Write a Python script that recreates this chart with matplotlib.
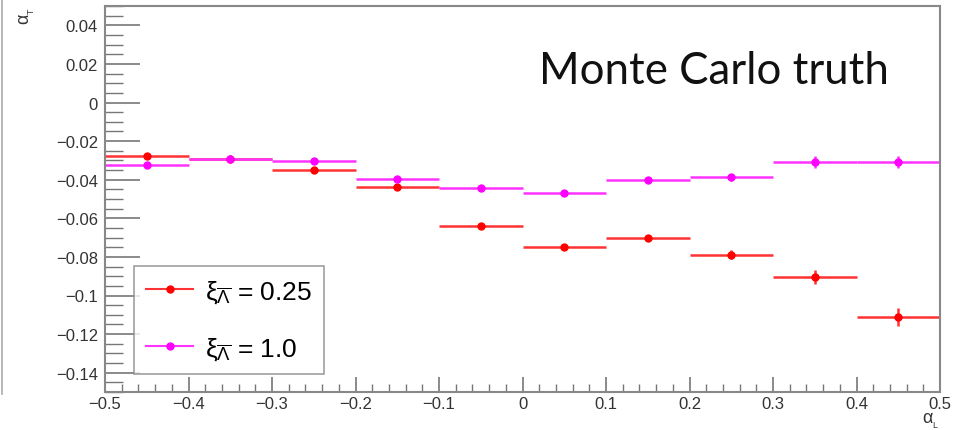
import numpy as np
import matplotlib
matplotlib.use('Agg')
import matplotlib.pyplot as plt
from matplotlib.ticker import MultipleLocator
from matplotlib.lines import Line2D

plt.rcParams['font.family'] = ['Liberation Sans', 'DejaVu Sans']
plt.rcParams['mathtext.fontset'] = 'custom'
plt.rcParams['mathtext.rm'] = 'Liberation Sans'
plt.rcParams['mathtext.it'] = 'Liberation Sans'

# bin centres in alpha_L
bin_centers = [-0.45, -0.35, -0.25, -0.15, -0.05, 0.05, 0.15, 0.25, 0.35, 0.45]
bin_half = 0.05

# xi = 0.25 (red)
red_vals = [-0.0278, -0.0293, -0.0349, -0.0438, -0.0638, -0.0747, -0.0702, -0.0788, -0.0904, -0.1112]
red_errs = [0.0010, 0.0010, 0.0010, 0.0012, 0.0012, 0.0013, 0.0015, 0.0025, 0.0035, 0.0047]

# xi = 1.0 (magenta)
mag_vals = [-0.0326, -0.0293, -0.0305, -0.0398, -0.0443, -0.0469, -0.0400, -0.0388, -0.0309, -0.0309]
mag_errs = [0.0008, 0.0008, 0.0008, 0.0009, 0.0009, 0.0010, 0.0012, 0.0020, 0.0030, 0.0030]

labels = [r'$\xi_{\overline{\Lambda}}$ = 0.25', r'$\xi_{\overline{\Lambda}}$ = 1.0']

fig = plt.figure(figsize=(9.62, 4.31), dpi=100)
ax = fig.add_axes([105/962, 38/431, 835/962, 386/431])

ax.errorbar(bin_centers, red_vals, xerr=bin_half, yerr=red_errs, fmt='o', color='#ff0000',
            ecolor='#ff3333', elinewidth=1.8, markersize=5, capsize=0)
ax.errorbar(bin_centers, mag_vals, xerr=bin_half, yerr=mag_errs, fmt='o', color='#ff00ff',
            ecolor='#ff33ff', elinewidth=1.8, markersize=5, capsize=0)

ax.set_xlim(-0.5, 0.5)
ax.set_ylim(-0.15, 0.05)

ax.xaxis.set_major_locator(MultipleLocator(0.1))
ax.xaxis.set_minor_locator(MultipleLocator(0.02))
ax.yaxis.set_major_locator(MultipleLocator(0.02))
ax.yaxis.set_minor_locator(MultipleLocator(0.005))
ax.xaxis.set_major_formatter(plt.FuncFormatter(lambda v, p: '0' if abs(v) < 1e-9 else ('%g' % round(v, 2)).replace('-', '\u2212')))
ax.yaxis.set_major_formatter(plt.FuncFormatter(lambda v, p: '0' if abs(v) < 1e-9 else ('%g' % round(v, 3)).replace('-', '\u2212')))

ax.tick_params(axis='both', which='both', direction='in', colors='#777777', labelcolor='#333333',
               labelsize=12, top=False, right=False)
ax.tick_params(axis='y', which='major', length=25, width=1.2, pad=5)
ax.tick_params(axis='y', which='minor', length=13, width=1.0)
ax.tick_params(axis='x', which='major', length=11, width=1.2, pad=3)
ax.tick_params(axis='x', which='minor', length=6, width=1.0)

for s in ax.spines.values():
    s.set_color('#888888')
    s.set_linewidth(1.5)

fig.text(27/962, 1 - 16/431, r'$\alpha_{_T}$', rotation=90, ha='center', va='center',
         fontsize=13, color='#333333')
fig.text(931/962, 1 - 421/431, r'$\alpha_{_L}$', ha='center', va='center',
         fontsize=13, color='#333333')

handles = [Line2D([], [], color='#ff3333', lw=1.5, marker='o', markersize=5, markerfacecolor='#ff0000',
                  markeredgecolor='#ff0000'),
           Line2D([], [], color='#ff33ff', lw=1.5, marker='o', markersize=5, markerfacecolor='#ff00ff',
                  markeredgecolor='#ff00ff')]
leg = ax.legend(handles, labels, loc='lower left', bbox_to_anchor=(29/835, 18/386), fontsize=19,
                frameon=True, fancybox=False, borderpad=0.45, handlelength=1.8, labelspacing=1.15,
                handletextpad=0.45, borderaxespad=0)
leg.get_frame().set_edgecolor('#888888')
leg.get_frame().set_linewidth(1.2)

fig.text(714/962, 1 - 72/431, 'Monte Carlo truth', fontsize=31.5, family=['Lato', 'DejaVu Sans'],
         ha='center', va='center', color='#111111')

# slide border line at left edge
fig.add_artist(Line2D([2/962, 2/962], [36/431, 1.0], color='#aaaaaa', lw=1.2))

fig.savefig('out.png', dpi=100)
